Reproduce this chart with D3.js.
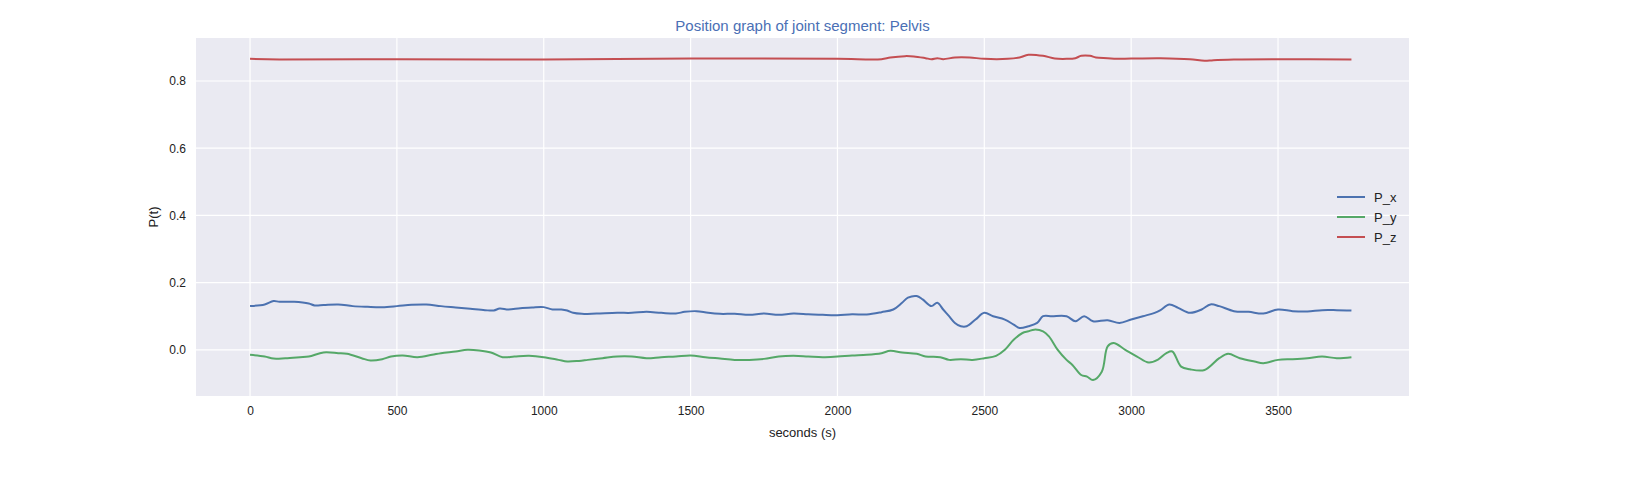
<!DOCTYPE html>
<html><head><meta charset="utf-8">
<script src="https://cdn.jsdelivr.net/npm/d3@7"></script>
<style>body{margin:0;background:#fff}text{font-family:"Liberation Sans",Arial,sans-serif}</style>
</head><body><svg id="c" width="1635" height="484"></svg>
<script>
const pxT = [0,50,80,100,150,200,220,250,300,350,400,450,500,550,600,650,700,750,800,830,850,880,920,960,1000,1030,1060,1080,1100,1130,1180,1250,1300,1350,1400,1450,1480,1520,1560,1600,1650,1700,1750,1800,1850,1900,1950,2000,2050,2100,2150,2190,2220,2240,2270,2290,2320,2340,2360,2380,2400,2420,2440,2470,2500,2530,2570,2600,2620,2650,2680,2700,2730,2780,2810,2840,2870,2920,2960,3000,3040,3080,3100,3130,3160,3200,3240,3270,3300,3350,3400,3450,3500,3550,3600,3650,3700,3750];
const pxV = [.13,.135,.145,.143,.143,.138,.132,.133,.135,.13,.128,.127,.13,.134,.135,.13,.126,.122,.118,.117,.123,.12,.124,.126,.127,.12,.12,.117,.11,.107,.108,.11,.11,.113,.11,.108,.113,.115,.11,.107,.107,.104,.108,.104,.108,.106,.104,.103,.106,.105,.112,.12,.14,.155,.16,.15,.13,.14,.12,.1,.08,.07,.07,.09,.11,.1,.09,.075,.065,.07,.08,.1,.1,.1,.085,.1,.085,.088,.08,.09,.1,.11,.118,.135,.125,.11,.12,.135,.13,.115,.113,.108,.12,.115,.114,.118,.118,.117];
const pyT = [0,50,80,120,170,200,250,300,330,380,410,450,480,520,570,620,650,700,740,780,820,860,900,950,1000,1050,1080,1120,1150,1200,1250,1300,1350,1400,1450,1500,1550,1600,1650,1700,1750,1800,1850,1900,1950,2000,2050,2100,2150,2180,2220,2270,2300,2350,2380,2420,2460,2500,2540,2570,2600,2630,2650,2670,2700,2720,2750,2780,2800,2830,2850,2870,2900,2920,2940,2980,3020,3060,3090,3120,3140,3170,3200,3250,3300,3330,3370,3420,3450,3500,3550,3600,3650,3700,3750];
const pyV = [-.015,-.02,-.026,-.025,-.022,-.02,-.008,-.01,-.012,-.025,-.032,-.028,-.02,-.017,-.022,-.015,-.01,-.005,0,-.002,-.008,-.022,-.02,-.018,-.022,-.03,-.035,-.033,-.03,-.025,-.02,-.02,-.025,-.022,-.02,-.017,-.022,-.026,-.03,-.03,-.027,-.02,-.018,-.02,-.022,-.02,-.017,-.015,-.01,-.003,-.008,-.012,-.02,-.022,-.03,-.028,-.03,-.025,-.018,0,.03,.05,.055,.06,.055,.04,0,-.03,-.045,-.075,-.08,-.09,-.065,.01,.02,0,-.02,-.038,-.03,-.01,-.005,-.05,-.058,-.06,-.025,-.012,-.025,-.035,-.04,-.03,-.028,-.025,-.02,-.025,-.022];
const pzT = [0,100,500,1000,1500,2000,2150,2180,2230,2260,2300,2320,2340,2360,2400,2450,2500,2580,2620,2650,2700,2740,2780,2810,2830,2860,2880,2920,2950,3000,3100,3200,3250,3280,3350,3500,3750];
const pzV = [.866,.864,.865,.864,.867,.866,.865,.87,.874,.873,.868,.865,.868,.865,.87,.87,.866,.866,.87,.878,.875,.867,.866,.868,.875,.875,.87,.868,.866,.867,.868,.865,.86,.862,.864,.865,.864];
const seriesNames = ["P_x","P_y","P_z"];
const seriesColors = ["#4c72b0","#55a868","#c44e52"];
const xTicks = [0,500,1000,1500,2000,2500,3000,3500];
const yTicks = [0,0.2,0.4,0.6,0.8];

const series = [[pxT,pxV],[pyT,pyV],[pzT,pzV]].map(([t,v],i) => ({
  name: seriesNames[i], color: seriesColors[i], pts: t.map((d,j) => [d, v[j]])
}));

const svg = d3.select('#c');
const m = {l:196, r:1409, t:38, b:396};
const x = d3.scaleLinear().domain([-184, 3946]).range([m.l, m.r]);
const y = d3.scaleLinear().domain([-0.1375, 0.928]).range([m.b, m.t]);

svg.append('rect').attr('x',m.l).attr('y',m.t).attr('width',m.r-m.l).attr('height',m.b-m.t).attr('fill','#eaeaf2');

const grid = svg.append('g');
grid.selectAll('.gx').data(xTicks).enter().append('line')
  .attr('x1',d=>x(d)).attr('x2',d=>x(d)).attr('y1',m.t).attr('y2',m.b)
  .attr('stroke','#fff').attr('stroke-width',1.2);
grid.selectAll('.gy').data(yTicks).enter().append('line')
  .attr('y1',d=>y(d)).attr('y2',d=>y(d)).attr('x1',m.l).attr('x2',m.r)
  .attr('stroke','#fff').attr('stroke-width',1.2);

const xAxis = svg.append('g').attr('transform',`translate(0,${m.b})`)
  .call(d3.axisBottom(x).tickValues(xTicks).tickSize(0).tickPadding(10).tickFormat(d3.format('d')));
const yAxis = svg.append('g').attr('transform',`translate(${m.l},0)`)
  .call(d3.axisLeft(y).tickValues(yTicks).tickSize(0).tickPadding(10).tickFormat(d3.format('.1f')));
[xAxis,yAxis].forEach(a => {
  a.select('.domain').remove();
  a.selectAll('text').attr('font-size',12).attr('fill','#222').style('font-family','"Liberation Sans",Arial,sans-serif');
});

const line = d3.line().x(d=>x(d[0])).y(d=>y(d[1])).curve(d3.curveCatmullRom);
svg.append('g').selectAll('path').data(series).enter().append('path')
  .attr('d',d=>line(d.pts)).attr('fill','none')
  .attr('stroke',d=>d.color).attr('stroke-width',2);

svg.append('text').attr('x',(m.l+m.r)/2).attr('y',31).attr('text-anchor','middle')
  .attr('font-size',15).attr('fill','#4a6fb5').text('Position graph of joint segment: Pelvis');
svg.append('text').attr('x',(m.l+m.r)/2).attr('y',437).attr('text-anchor','middle')
  .attr('font-size',13).attr('fill','#222').text('seconds (s)');
svg.append('text').attr('transform',`translate(158,${(m.t+m.b)/2}) rotate(-90)`).attr('text-anchor','middle')
  .attr('font-size',13).attr('fill','#222').text('P(t)');

const leg = svg.append('g').attr('transform','translate(1337,197)');
series.forEach((s,i) => {
  const g = leg.append('g').attr('transform',`translate(0,${i*20})`);
  g.append('line').attr('x1',0).attr('x2',28).attr('stroke',s.color).attr('stroke-width',2);
  g.append('text').attr('x',37).attr('y',4.5).attr('font-size',13).attr('fill','#222').text(s.name);
});
</script></body></html>
